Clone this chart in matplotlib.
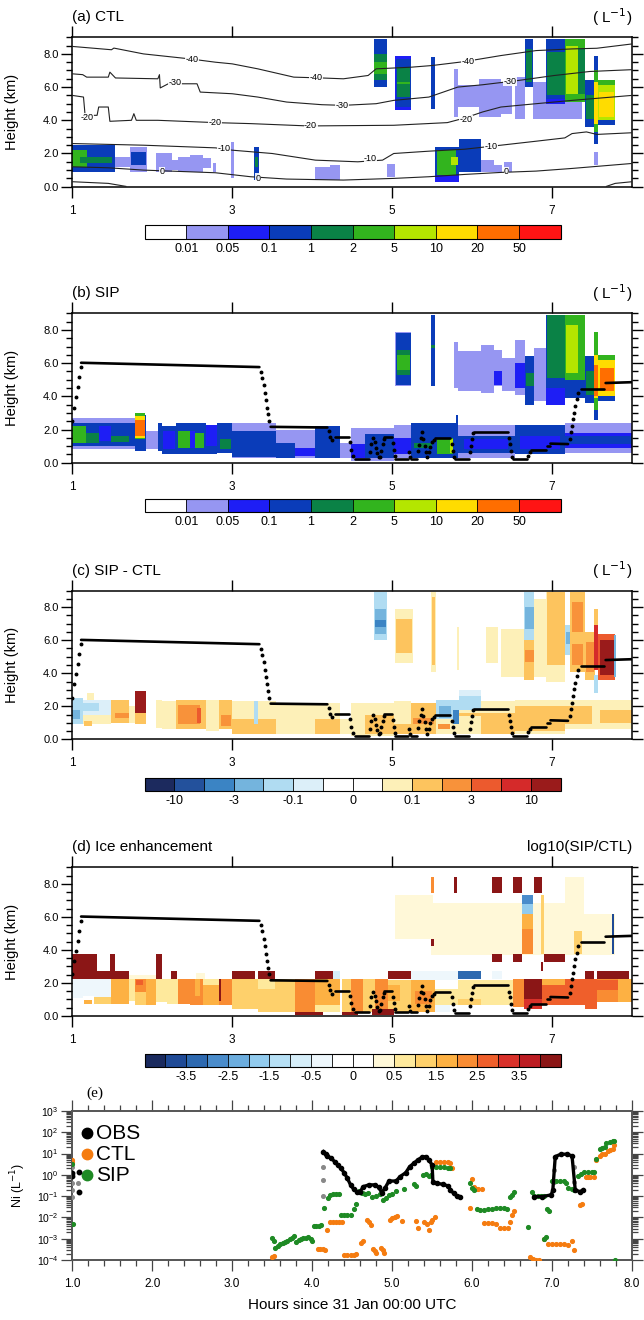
import numpy as np
import matplotlib
matplotlib.use('Agg')
import matplotlib.pyplot as plt
from matplotlib.colors import ListedColormap, BoundaryNorm
from matplotlib.cm import ScalarMappable
from matplotlib.ticker import MultipleLocator, LogLocator, NullFormatter

plt.rcParams['font.family'] = ['Liberation Sans', 'DejaVu Sans']

# ---------------- data ----------------
# (t_start, t_end, z_bottom, z_top, value) blocks of ice number (L-1)
ctl_cells = [
    (1.00, 1.72, 1.2, 1.8, 0.03), (1.00, 1.54, 0.9, 2.5, 0.5), (1.00, 1.18, 1.2, 2.2, 3),
    (1.10, 1.50, 1.4, 1.8, 1.5), (1.72, 1.94, 0.9, 2.4, 0.03), (1.74, 1.92, 1.3, 2.1, 0.5),
    (2.05, 2.25, 0.9, 2.0, 0.03), (2.25, 2.33, 1.0, 1.6, 0.03), (2.32, 2.63, 0.9, 1.8, 0.03),
    (2.47, 2.63, 0.9, 1.9, 0.03), (2.63, 2.74, 1.1, 1.7, 0.03), (2.76, 2.80, 0.9, 1.4, 0.03),
    (2.99, 3.02, 0.5, 2.7, 0.03), (3.27, 3.33, 0.4, 2.4, 0.5), (3.28, 3.32, 1.2, 1.8, 1.5),
    (4.04, 4.35, 0.4, 1.2, 0.03), (4.22, 4.35, 0.4, 1.3, 0.03), (4.94, 5.04, 0.6, 1.35, 0.03),
    (5.54, 5.84, 0.3, 2.4, 0.5), (5.54, 5.84, 0.3, 0.7, 0.07), (5.56, 5.80, 0.7, 2.2, 3),
    (5.74, 5.82, 1.3, 1.8, 7), (5.84, 6.11, 0.9, 2.9, 0.5), (6.11, 6.27, 0.9, 1.6, 0.03),
    (6.27, 6.37, 0.9, 1.3, 0.03), (6.40, 6.50, 0.9, 1.5, 0.03), (7.53, 7.58, 1.3, 2.1, 0.03),
    (4.77, 4.93, 6.0, 8.9, 0.5), (4.77, 4.93, 6.4, 8.0, 1.5), (4.77, 4.93, 6.8, 7.5, 3),
    (5.04, 5.24, 4.6, 7.9, 0.07), (5.05, 5.23, 4.8, 7.7, 0.5), (5.06, 5.22, 5.4, 7.2, 1.5),
    (5.06, 5.22, 6.2, 6.3, 3), (5.49, 5.54, 4.7, 7.8, 0.5), (5.78, 5.82, 4.2, 7.1, 0.03),
    (5.82, 6.09, 4.8, 6.1, 0.03), (6.09, 6.36, 4.2, 6.5, 0.03), (6.36, 6.50, 4.4, 6.3, 0.03),
    (6.54, 6.66, 4.1, 6.6, 0.03), (6.66, 6.76, 6.0, 8.9, 0.5), (6.67, 6.75, 6.3, 8.3, 1.5),
    (6.76, 6.92, 4.1, 6.3, 0.03), (6.90, 7.38, 4.1, 5.3, 0.03), (6.92, 7.16, 5.0, 8.9, 0.5),
    (6.94, 7.16, 5.5, 8.1, 1.5), (6.92, 7.16, 5.0, 5.3, 0.07), (7.16, 7.41, 5.1, 8.9, 3),
    (7.18, 7.32, 5.6, 8.5, 7), (7.32, 7.41, 5.6, 8.3, 1.5), (7.41, 7.54, 3.6, 6.4, 0.5),
    (7.42, 7.53, 4.1, 5.5, 1.5), (7.53, 7.58, 2.6, 7.9, 0.5), (7.53, 7.58, 3.3, 7.0, 3),
    (7.53, 7.58, 3.8, 6.3, 15), (7.58, 7.79, 3.7, 6.4, 3), (7.58, 7.79, 3.9, 6.1, 7),
    (7.59, 7.78, 4.2, 5.7, 15), (7.58, 7.79, 3.7, 4.0, 0.5),
]

sip_cells = [
    (1.00, 1.80, 0.8, 2.7, 0.03), (1.00, 1.78, 1.0, 2.4, 0.5), (1.00, 1.17, 1.2, 2.2, 3),
    (1.17, 1.33, 1.2, 1.8, 1.5), (1.33, 1.49, 1.3, 2.2, 0.07), (1.49, 1.71, 1.25, 1.6, 1.5),
    (1.78, 1.92, 0.7, 2.9, 0.5), (1.79, 1.91, 1.4, 3.0, 3), (1.79, 1.91, 1.5, 2.8, 15),
    (1.79, 1.91, 1.6, 2.6, 30), (1.92, 2.07, 0.8, 1.9, 0.03), (2.07, 2.12, 0.7, 2.4, 0.5),
    (2.12, 2.30, 0.5, 2.2, 0.5), (2.14, 2.28, 0.8, 1.9, 0.07), (2.30, 2.67, 0.5, 2.4, 0.5),
    (2.32, 2.47, 0.9, 1.9, 3), (2.47, 2.54, 0.9, 1.9, 0.07), (2.54, 2.65, 0.9, 1.8, 3),
    (2.67, 2.81, 0.5, 2.3, 0.07), (2.67, 2.81, 0.5, 1.0, 0.5), (2.81, 3.00, 0.6, 2.4, 0.5),
    (2.85, 2.99, 0.8, 1.4, 1.5), (3.00, 3.55, 0.3, 2.4, 0.03), (3.00, 3.55, 0.35, 1.9, 0.5),
    (3.55, 4.04, 0.3, 2.0, 0.03), (3.55, 3.78, 0.3, 1.2, 0.5), (3.78, 4.04, 0.4, 0.9, 0.07),
    (4.04, 4.35, 0.3, 2.2, 0.5), (4.35, 4.48, 0.3, 1.2, 0.03), (4.48, 5.02, 0.1, 2.1, 0.03),
    (4.48, 4.66, 0.3, 1.1, 0.07), (4.66, 5.02, 0.3, 1.7, 0.5), (5.02, 5.55, 0.3, 2.3, 0.03),
    (5.02, 5.24, 0.5, 1.5, 0.07), (5.24, 5.55, 0.3, 2.4, 0.5), (5.27, 5.50, 0.9, 1.2, 1.5),
    (5.55, 5.80, 0.3, 2.4, 0.5), (5.56, 5.76, 0.5, 1.5, 3), (5.72, 5.76, 0.6, 1.4, 7),
    (5.80, 5.83, 0.3, 2.9, 0.5), (5.83, 6.54, 0.3, 2.3, 0.03), (5.83, 6.54, 0.6, 1.6, 0.5),
    (5.90, 6.45, 0.8, 1.4, 0.07), (6.54, 7.16, 0.5, 2.3, 0.5), (6.60, 7.10, 0.8, 1.6, 0.07),
    (7.16, 8.00, 0.6, 2.4, 0.03), (7.16, 8.00, 0.9, 1.8, 0.07), (7.16, 8.00, 1.1, 1.6, 0.5),
    (5.04, 5.24, 4.6, 7.9, 0.03), (5.05, 5.23, 4.7, 7.8, 0.5), (5.06, 5.22, 5.3, 6.8, 1.5),
    (5.06, 5.22, 5.6, 6.5, 3), (5.49, 5.54, 4.6, 8.9, 0.5), (5.49, 5.54, 6.9, 7.1, 1.5),
    (5.78, 5.82, 4.5, 7.3, 0.03), (5.82, 6.11, 4.3, 6.7, 0.03), (6.11, 6.27, 4.2, 7.1, 0.03),
    (6.27, 6.38, 4.6, 6.8, 0.03), (6.27, 6.38, 4.7, 5.5, 0.07), (6.38, 6.54, 4.3, 6.3, 0.03),
    (6.54, 6.66, 4.1, 7.4, 0.03), (6.54, 6.66, 4.5, 6.0, 0.07), (6.66, 6.78, 3.5, 6.4, 0.5),
    (6.67, 6.77, 4.6, 5.4, 1.5), (6.78, 6.92, 3.7, 6.9, 0.03), (6.92, 7.16, 3.5, 8.9, 0.5),
    (6.94, 7.16, 5.1, 8.9, 1.5), (6.92, 7.16, 3.5, 4.5, 0.07), (7.16, 7.41, 3.9, 8.9, 3),
    (7.17, 7.32, 5.4, 8.3, 7), (7.16, 7.41, 3.9, 5.0, 0.5), (7.41, 7.53, 3.6, 6.4, 0.5),
    (7.42, 7.52, 4.1, 5.5, 1.5), (7.53, 7.58, 2.6, 7.9, 3), (7.53, 7.58, 3.9, 6.5, 15),
    (7.53, 7.58, 4.0, 5.9, 30), (7.53, 7.58, 2.6, 3.2, 0.5), (7.58, 7.79, 3.7, 6.5, 3),
    (7.58, 7.79, 4.0, 6.2, 15), (7.60, 7.78, 4.3, 5.7, 30), (7.58, 7.79, 3.7, 4.0, 0.5),
]

diff_cells = [
    (1.00, 1.13, 0.9, 2.5, -0.5), (1.00, 1.10, 1.2, 1.8, -2), (1.13, 1.49, 1.5, 2.4, -0.05),
    (1.13, 1.33, 1.7, 2.2, -0.5), (1.18, 1.27, 2.4, 2.8, 0.05), (1.13, 1.49, 0.9, 1.5, 0.05),
    (1.15, 1.25, 0.8, 1.1, 0.5), (1.49, 1.71, 1.0, 2.4, 0.5), (1.53, 1.71, 1.3, 1.6, 2),
    (1.71, 1.78, 1.0, 2.0, 0.05), (1.78, 1.92, 0.9, 2.9, 0.5), (1.78, 1.92, 1.6, 2.9, 20),
    (2.05, 2.12, 0.7, 2.4, 0.05), (2.12, 2.30, 0.6, 2.3, 0.05), (2.30, 2.67, 0.6, 2.4, 0.5),
    (2.32, 2.60, 0.9, 2.1, 2), (2.56, 2.61, 1.0, 1.9, 4), (2.67, 2.83, 0.5, 2.4, 0.05),
    (2.83, 3.00, 0.6, 2.4, 0.5), (2.86, 2.99, 0.8, 1.5, 2), (3.00, 3.55, 0.3, 2.3, 0.05),
    (3.00, 3.55, 0.3, 1.2, 0.5), (3.27, 3.32, 0.9, 2.3, -0.5), (3.55, 4.04, 0.3, 2.1, 0.05),
    (4.04, 4.35, 0.3, 2.2, 0.05), (4.04, 4.35, 0.3, 1.2, 0.5), (4.35, 4.48, 0.3, 1.2, 0.05),
    (4.48, 5.02, 0.2, 2.2, 0.05), (4.66, 5.02, 0.3, 1.5, 0.5), (5.02, 5.24, 0.3, 2.3, 0.05),
    (5.02, 5.24, 0.3, 0.9, 0.5), (5.24, 5.55, 0.3, 2.2, 0.5), (5.26, 5.52, 0.9, 1.3, 2),
    (5.55, 5.84, 0.3, 1.2, 0.05), (5.55, 5.84, 1.2, 2.4, -0.5), (5.57, 5.72, 0.6, 0.9, 2),
    (5.58, 5.74, 1.3, 2.0, -2), (5.76, 5.84, 0.9, 1.8, -4), (5.84, 6.11, 0.3, 1.8, 0.05),
    (5.84, 6.11, 1.8, 2.6, -0.5), (5.84, 6.11, 2.6, 3.0, -0.05), (5.84, 6.11, 1.4, 1.6, 0.5),
    (6.11, 6.54, 0.3, 2.3, 0.05), (6.11, 6.54, 0.3, 1.6, 0.5), (6.54, 7.16, 0.3, 2.4, 0.05),
    (6.54, 7.16, 0.5, 2.0, 0.5), (7.16, 8.00, 0.6, 2.4, 0.05), (7.16, 7.50, 0.9, 2.0, 0.5),
    (7.60, 8.00, 1.0, 1.8, 0.5),
    (4.77, 4.93, 6.0, 8.9, -0.5), (4.78, 4.92, 6.4, 7.9, -2), (4.78, 4.92, 6.8, 7.2, -4),
    (5.04, 5.26, 4.6, 7.9, 0.05), (5.05, 5.25, 5.2, 7.3, 0.5), (5.49, 5.55, 4.1, 8.9, 0.05),
    (5.50, 5.54, 4.5, 8.6, 0.5), (5.81, 5.84, 4.2, 6.8, 0.05), (6.18, 6.33, 4.6, 6.8, 0.05),
    (6.36, 6.65, 3.8, 6.7, 0.05), (6.65, 6.78, 3.6, 8.9, 0.5), (6.65, 6.78, 6.0, 8.9, -0.5),
    (6.66, 6.77, 6.7, 8.0, -2), (6.66, 6.77, 4.7, 5.4, 2), (6.78, 6.92, 3.8, 8.5, 0.05),
    (6.92, 7.16, 3.5, 8.9, 0.05), (6.94, 7.16, 4.5, 8.9, 0.5), (7.16, 7.23, 5.1, 6.9, -0.5),
    (7.17, 7.22, 5.8, 6.5, -2), (7.23, 7.41, 4.1, 8.9, 0.5), (7.25, 7.39, 6.5, 8.3, 2),
    (7.25, 7.39, 4.5, 5.8, 2), (7.41, 7.54, 3.6, 6.5, 0.5), (7.42, 7.53, 4.1, 5.9, 2),
    (7.52, 7.58, 4.3, 7.9, 0.5), (7.52, 7.58, 4.2, 6.9, 7), (7.53, 7.58, 2.8, 3.9, -0.5),
    (7.58, 7.79, 3.6, 6.4, 4), (7.60, 7.77, 3.9, 6.0, 20), (7.77, 7.80, 3.8, 6.3, -2),
]

enh_cells = [
    (1.00, 1.31, 2.26, 3.76, 4.5), (1.00, 1.71, 2.26, 2.76, 4.5), (1.47, 1.53, 2.76, 3.76, 4.5),
    (1.71, 2.05, 2.26, 2.50, 0.4), (2.05, 2.12, 2.26, 3.76, 4.5), (2.24, 2.31, 2.26, 2.76, 4.5),
    (2.55, 2.66, 2.26, 2.60, 0.4), (3.00, 3.28, 2.26, 2.76, 4.5), (3.32, 3.54, 2.26, 2.76, 4.5),
    (4.04, 4.26, 2.26, 2.76, 4.5), (4.26, 4.35, 2.26, 2.76, -0.75), (4.95, 5.23, 2.26, 2.76, 4.5),
    (5.24, 5.82, 2.16, 2.76, -0.4), (5.82, 6.11, 2.26, 2.76, -3.25), (6.25, 6.38, 2.26, 2.76, -0.4),
    (7.41, 7.52, 2.26, 2.76, 4.5), (7.56, 7.96, 2.26, 2.76, 4.5),
    (1.00, 1.13, 1.10, 2.26, -0.4), (1.13, 1.27, 1.20, 2.26, -0.4), (1.15, 1.25, 0.76, 0.96, 1.75),
    (1.27, 1.49, 1.16, 2.26, -0.4), (1.27, 1.49, 0.76, 1.16, 1.25), (1.49, 1.71, 0.76, 2.26, 1.75),
    (1.71, 1.78, 0.90, 2.26, 0.75), (1.78, 1.92, 1.46, 2.26, 2.25), (1.78, 1.92, 0.66, 1.46, 1.25),
    (1.80, 1.88, 1.86, 2.16, 2.75), (1.92, 2.05, 0.66, 2.26, 1.75), (2.05, 2.18, 0.86, 2.26, 0.75),
    (2.18, 2.32, 0.76, 2.26, 0.75), (2.32, 2.47, 0.76, 2.26, 2.25), (2.47, 2.63, 0.66, 2.26, 2.25),
    (2.54, 2.60, 1.20, 2.26, 1.75), (2.63, 2.83, 0.66, 2.26, 1.75), (2.63, 2.83, 1.90, 2.26, 0.75),
    (2.83, 3.00, 0.66, 2.26, 2.25), (2.84, 2.86, 0.90, 2.26, 4.5), (3.00, 3.32, 0.46, 2.26, 1.25),
    (3.32, 3.54, 0.26, 2.26, 1.25), (3.32, 3.54, 1.66, 2.26, 0.75), (3.54, 3.79, 0.26, 2.26, 1.25),
    (3.79, 4.04, 0.26, 2.26, 2.25), (4.04, 4.35, 0.66, 2.26, 1.75), (4.04, 4.35, 0.26, 0.66, 0.75),
    (4.37, 4.48, 0.26, 2.26, 1.25), (4.48, 4.64, 0.26, 2.26, 2.25), (4.64, 4.79, 0.26, 2.26, 1.25),
    (4.79, 4.95, 0.26, 2.26, 2.25), (4.95, 5.24, 0.26, 2.16, 1.25), (4.95, 5.10, 0.90, 1.90, 1.75),
    (5.24, 5.53, 0.26, 2.16, 1.75), (5.28, 5.50, 0.70, 1.50, 2.25), (5.53, 5.82, 0.66, 1.66, 0.75),
    (5.53, 5.73, 0.26, 0.66, -0.4), (5.82, 6.11, 1.06, 2.16, 0.75), (5.82, 6.11, 0.66, 1.06, 1.25),
    (6.11, 6.51, 0.66, 2.16, 0.75), (6.51, 6.65, 0.56, 2.26, 2.25), (6.65, 6.87, 1.06, 2.26, 4.5),
    (6.65, 6.87, 0.46, 1.06, 3.25), (6.87, 7.16, 0.66, 2.26, 1.75), (6.87, 7.16, 0.66, 1.86, 2.75),
    (7.16, 7.41, 0.66, 2.26, 2.75), (7.41, 7.56, 0.46, 2.26, 2.75), (7.56, 7.83, 0.86, 2.26, 2.25),
    (7.56, 7.83, 1.56, 2.16, 2.75), (7.83, 8.00, 0.86, 2.26, 1.75),
    (3.79, 4.13, 0.06, 0.26, 4.5), (4.37, 4.57, 0.06, 0.26, 4.5), (4.75, 5.02, 0.06, 0.46, 4.5),
    (5.04, 5.51, 4.66, 7.36, 0.4), (5.49, 6.65, 3.70, 6.86, 0.4), (6.65, 7.16, 3.70, 6.86, 0.4),
    (7.16, 7.40, 3.70, 8.40, 0.4), (7.40, 7.79, 3.70, 6.20, 0.4),
    (6.63, 6.76, 6.76, 7.36, -2.75), (6.63, 6.76, 6.16, 6.76, -1.75), (6.63, 6.76, 5.26, 6.16, 1.75),
    (6.63, 6.76, 3.76, 5.26, 2.25), (6.86, 6.90, 3.76, 7.36, 1.25), (7.27, 7.38, 3.76, 5.16, 1.25),
    (5.49, 5.52, 7.46, 8.40, 2.25), (5.77, 5.81, 7.46, 8.40, 4.5), (6.25, 6.38, 7.46, 8.40, 4.5),
    (6.51, 6.62, 7.46, 8.40, 4.5), (6.77, 6.87, 7.46, 8.40, 4.5), (6.25, 6.38, 3.26, 3.76, 4.5),
    (6.51, 6.62, 3.26, 3.76, 4.5), (6.90, 7.16, 3.26, 3.76, 4.5), (5.49, 5.52, 4.26, 4.66, 4.5),
    (6.86, 6.89, 2.76, 3.26, 4.5), (7.75, 7.78, 3.76, 6.16, -3.75),
]

# isotherm heights (km) in panel (a)
iso_m40_t = [1.0, 1.49, 1.52, 1.89, 2.47, 2.79, 3.0, 3.32, 3.77, 4.12, 4.39, 4.7, 4.8, 5.24, 5.5, 5.91, 6.36, 6.8, 7.25, 7.56, 8.0]
iso_m40_z = [8.45, 8.25, 8.35, 8.0, 7.7, 7.5, 7.4, 7.1, 6.6, 6.55, 6.5, 6.7, 7.1, 7.2, 7.3, 7.54, 7.9, 8.2, 8.3, 8.34, 8.6]
iso_m30_t = [1.0, 1.13, 1.18, 1.45, 1.47, 1.54, 2.07, 2.09, 2.1, 2.2, 2.56, 2.6, 3.0, 3.32, 3.68, 4.12, 4.39, 4.8, 5.02, 5.46, 5.82, 6.13, 6.58, 7.03, 7.47, 8.0]
iso_m30_z = [6.8, 6.75, 6.6, 6.6, 6.9, 6.55, 6.5, 6.75, 5.95, 6.2, 6.2, 5.7, 5.6, 5.4, 5.1, 4.94, 4.9, 5.0, 5.2, 5.4, 6.0, 6.14, 6.4, 6.7, 6.94, 7.05]
iso_m20_t = [1.0, 1.14, 1.16, 1.31, 1.33, 1.45, 1.47, 1.74, 1.77, 1.8, 2.07, 2.79, 3.23, 3.95, 5.02, 5.69, 5.91, 6.13, 6.36, 6.8, 7.25, 8.0]
iso_m20_z = [5.5, 5.4, 4.3, 4.3, 4.8, 4.8, 3.94, 4.0, 4.4, 4.0, 4.0, 3.86, 3.8, 3.66, 3.7, 3.86, 4.14, 4.5, 4.8, 5.0, 5.2, 5.5]
iso_m10_t = [1.0, 1.89, 2.79, 3.0, 3.5, 4.04, 4.57, 4.88, 5.02, 5.46, 5.91, 6.36, 6.8, 7.16, 7.25, 7.43, 7.56, 8.0]
iso_m10_z = [2.6, 2.5, 2.34, 2.2, 2.0, 1.6, 1.5, 1.6, 2.0, 2.14, 2.26, 2.5, 2.74, 2.94, 3.2, 3.3, 3.15, 3.25]
iso_0_t = [1.0, 1.45, 1.89, 2.79, 3.23, 3.68, 4.39, 5.02, 5.46, 5.91, 6.36, 6.8, 7.25, 8.0]
iso_0_z = [1.2, 1.14, 1.0, 0.84, 0.6, 0.46, 0.4, 0.5, 0.6, 0.74, 0.86, 0.94, 1.1, 1.4]
iso_p10a_t = [1.0, 1.45, 1.67]
iso_p10a_z = [0.3, 0.2, 0.02]
iso_p10b_t = [7.68, 7.79, 8.0]
iso_p10b_z = [0.02, 0.2, 0.3]
iso_lab_t = [2.5, 4.05, 5.95, 2.29, 4.37, 6.47, 1.18, 2.79, 3.98, 5.92, 2.9, 4.73, 6.24, 2.12, 3.32, 6.43]
iso_lab_z = [7.65, 6.55, 7.55, 6.25, 4.9, 6.35, 4.15, 3.86, 3.66, 4.05, 2.28, 1.68, 2.45, 0.9, 0.5, 0.9]
iso_lab_s = ['-40', '-40', '-40', '-30', '-30', '-30', '-20', '-20', '-20', '-20',
             '-10', '-10', '-10', '0', '0', '0']

# black height line in (b)-(d): solid plateaus and single dots
plat_t0 = [1.11, 3.48, 4.28, 4.53, 4.90, 5.04, 5.24, 5.53, 5.79, 6.02, 6.51, 6.74, 6.94, 6.98, 7.36, 7.67]
plat_t1 = [3.34, 4.19, 4.46, 4.71, 5.00, 5.20, 5.31, 5.73, 5.96, 6.45, 6.69, 6.92, 6.98, 7.20, 7.65, 8.00]
plat_z0 = [6.02, 2.16, 1.52, 0.22, 1.52, 0.22, 0.22, 1.48, 0.20, 1.85, 0.20, 0.74, 1.00, 1.15, 4.45, 4.80]
plat_z1 = [5.76, 2.12, 1.52, 0.22, 1.52, 0.22, 0.22, 1.48, 0.20, 1.85, 0.20, 0.74, 1.00, 1.12, 4.45, 4.85]
dot_t = [1.0, 1.02, 1.045, 1.067, 1.09, 1.107,
         3.357, 3.375, 3.393, 3.41, 3.424, 3.437, 3.45, 3.464,
         4.205, 4.223, 4.245, 4.473, 4.49, 4.51,
         4.723, 4.741, 4.76, 4.78, 4.8, 4.817, 4.83, 4.848, 4.866, 4.884, 4.897,
         5.009, 5.022, 5.036, 5.21, 5.228,
         5.32, 5.34, 5.357, 5.37, 5.39, 5.406, 5.424, 5.44, 5.46, 5.478, 5.5, 5.518,
         5.746, 5.76, 5.772, 5.97, 5.987, 6.0, 6.013,
         6.46, 6.473, 6.487, 6.5, 6.705, 6.72,
         7.219, 7.236, 7.25, 7.263, 7.277, 7.29, 7.308, 7.326]
dot_z = [2.52, 3.32, 3.96, 4.56, 5.16, 5.76,
         5.48, 5.12, 4.68, 4.22, 3.76, 3.32, 2.92, 2.52,
         1.88, 1.56, 1.36, 1.22, 0.76, 0.4,
         0.62, 1.12, 1.48, 1.22, 0.88, 0.56, 0.32, 0.36, 0.72, 1.12, 1.42,
         1.16, 0.76, 0.4, 0.62, 0.32,
         0.68, 1.08, 1.48, 1.82, 1.42, 1.02, 0.62, 0.32, 0.62, 0.96, 1.22, 1.36,
         1.12, 0.72, 0.36, 0.62, 1.02, 1.42, 1.76,
         1.48, 1.12, 0.72, 0.36, 0.42, 0.62,
         1.42, 1.82, 2.22, 2.62, 3.02, 3.42, 3.82, 4.22]

# panel (e): log10 of Ni (L-1)
obs_t = [4.14, 4.17, 4.19, 4.24, 4.28, 4.32, 4.36, 4.40, 4.44, 4.48, 4.52, 4.56, 4.60, 4.64, 4.71,
         4.78, 4.83, 4.87, 4.91, 4.96, 5.05, 5.10, 5.17, 5.22, 5.27, 5.32, 5.37, 5.42, 5.46, 5.50,
         5.51, 5.56, 5.63, 5.70, 5.73, 5.77, 5.81, 5.85, np.nan,
         6.78, 6.88, 6.99, 7.01, 7.04, 7.11, 7.19, 7.25, 7.29, 7.35, 7.39]
obs_lg = [1.09, 0.98, 0.89, 0.78, 0.62, 0.46, 0.31, 0.10, -0.16, -0.47, -0.68, -0.79, -0.79, -0.55, -0.47,
          -0.47, -0.58, -0.83, -0.63, -0.29, -0.29, -0.08, 0.10, 0.39, 0.54, 0.70, 0.82, 0.86, 0.70, 0.46,
          -0.32, -0.40, -0.44, -0.52, -0.71, -0.87, -0.99, -1.02, np.nan,
          -1.02, -1.02, -0.94, -0.71, 0.86, 0.97, 0.97, 0.89, -0.71, -0.79, -0.71]
obs_grey_t = [1.0, 1.0, 1.0, 1.0, 1.07, 4.14, 4.14, 4.14, 7.02, 7.03, 7.27, 7.28, 4.63]
obs_grey_lg = [0.38, -0.4, -0.72, -1.03, -0.4, -1.0, -0.25, 0.35, -0.32, 0.23, 0.39, -0.32, -0.85]
obs_pt_t = [1.0, 1.0, 1.08, 1.08]
obs_pt_lg = [0.1, -0.05, 0.12, -0.82]

ctl_t = [1.0, 1.0, 3.5, 3.52, 4.07, 4.10, 4.13, 4.16, 4.18, 4.22, 4.26, 4.30, 4.34, 4.37,
         4.40, 4.44, 4.48, 4.52, 4.55, 4.61, 4.63, 4.69, 4.71, 4.73, 4.76, 4.78, 4.80,
         4.86, 4.88, 4.90, 4.97, 5.00, 5.03, 5.06, 5.12, 5.30, 5.32, 5.40, 5.43, 5.46, 5.48,
         5.50, 5.53, 5.55, 5.60, 5.65, 5.70, 5.73, 5.75, 6.00, 6.02, 6.05, 6.08, 6.12, 5.98,
         6.15, 6.20, 6.25, 6.30, 6.35, 6.40, 6.45, 6.48, 6.50, 6.52, 6.73, 6.76, 6.80, 6.84,
         6.90, 6.95, 7.00, 7.05, 7.10, 7.15, 7.20, 7.25, 7.27, 7.35, 7.38, 7.42, 7.45, 7.48,
         7.52, 7.55, 7.60, 7.63, 7.66, 7.70, 7.73, 7.76, 7.78]
ctl_lg = [0.69, 0.6, -3.85, -3.8, -3.5, -3.5, -3.5, -3.52, -2.6, -2.2, -2.2, -2.2, -2.2, -2.22,
          -3.75, -3.75, -3.75, -3.75, -3.72, -3.2, -3.1, -2.1, -2.2, -2.35, -3.5, -3.6, -3.65,
          -3.45, -3.55, -3.65, -2.1, -2.05, -2.0, -1.95, -2.15, -2.15, -2.5, -2.2, -2.3, -2.6, -2.2,
          -2.1, -2.0, 0.6, 0.6, 0.6, 0.6, 0.55, 0.3, -0.2, -0.55, -0.65, -0.65, -0.65, -1.55,
          -2.25, -2.25, -2.25, -2.3, -2.5, -2.5, -2.5, -2.2, -1.9, -1.7, -3.85, -3.95, -4.0, -3.98,
          -3.0, -3.25, -3.25, -3.25, -3.25, -3.25, -3.3, -3.1, -3.55, -1.4, -1.35, -0.1, -0.1, -0.1,
          -0.08, 0.7, 0.9, 1.0, 1.0, 1.1, 1.15, 1.2, 1.4]

sip_t = [1.0, 1.01, 3.5, 3.52, 3.54, 3.57, 3.6, 3.63, 3.66, 3.69, 3.72, 3.75, 3.77, 3.8, 3.83,
         3.86, 3.89, 3.92, 3.95, 3.98, 4.0, 4.02, 4.05, 4.08, 4.11, 4.15, 4.2, 4.22, 4.26, 4.3,
         4.34, 4.36, 4.4, 4.44, 4.48, 4.52, 4.55, 4.58, 4.62, 4.66, 4.7, 4.75, 4.8, 4.85, 4.88,
         4.92, 4.96, 5.0, 5.05, 5.15, 5.27, 5.3, 5.38, 5.42, 5.46, 5.48, 5.5, 5.55, 5.6, 5.65,
         5.7, 5.73, 5.98, 6.0, 6.02, 6.06, 6.1, 6.15, 6.2, 6.25, 6.3, 6.35, 6.4, 6.44, 6.47,
         6.5, 6.52, 6.7, 6.75, 6.78, 6.82, 6.86, 6.9, 6.94, 6.96, 6.9, 6.93, 7.0, 7.05, 7.1,
         7.15, 7.18, 7.2, 7.25, 7.28, 7.33, 7.36, 7.4, 7.45, 7.5, 7.53, 7.55, 7.6, 7.63, 7.66,
         7.68, 7.72, 7.76, 7.78, 7.79]
sip_lg = [0.53, -2.33, -2.95, -3.1, -3.45, -3.35, -3.25, -3.2, -3.15, -3.1, -3.0, -2.95, -2.85, -3.15, -3.05,
          -3.0, -2.95, -2.95, -2.9, -3.0, -3.1, -2.4, -2.4, -2.4, -2.35, -1.55, -1.1, -0.95, -0.9, -0.9,
          -0.88, -1.9, -1.9, -1.9, -1.88, -1.6, -1.35, -0.75, -0.85, -0.9, -0.85, -1.05, -1.0, -0.9, -1.2,
          -1.1, -0.95, -0.9, -0.75, -0.65, -0.45, -0.5, 0.0, 0.05, -0.05, 0.0, 0.35, 0.35, 0.35, 0.35,
          0.3, 0.3, -0.4, -0.6, -0.7, -1.6, -1.65, -1.65, -1.6, -1.6, -1.55, -1.55, -1.55, -1.6, -1.05,
          -0.95, -0.8, -2.45, -0.8, -1.0, -1.0, -1.0, -1.0, -1.6, -1.7, -3.0, -2.9, -0.3, -0.3, -0.3,
          -0.3, -0.4, -0.6, -0.65, -0.7, -0.05, 0.05, 0.15, 0.15, 0.15, 0.12, 0.75, 1.2, 1.25, 1.3,
          1.5, 1.55, 1.6, 1.6, -4.0]

# colour scales
ni_bounds = [0.001, 0.01, 0.05, 0.1, 1, 2, 5, 10, 20, 50, 1000]
ni_colors = ['#ffffff', '#9696f2', '#1e1ef5', '#0a3cb9', '#0a8246', '#32b41e',
             '#b4e600', '#ffdc00', '#ff6e00', '#ff1414']
ni_ticks = [0.01, 0.05, 0.1, 1, 2, 5, 10, 20, 50]
ni_labels = ['0.01', '0.05', '0.1', '1', '2', '5', '10', '20', '50']

df_bounds = [-30, -10, -5, -3, -1, -0.1, -0.01, 0, 0.01, 0.1, 1, 3, 5, 10, 30]
df_colors = ['#1c2a5e', '#23519c', '#3b84c4', '#74b4dd', '#b0dcf2', '#dceff9', '#ffffff',
             '#ffffff', '#fdf0b8', '#fdc45e', '#f8923a', '#ec5a2e', '#d52a2a', '#9a1b1b']
df_ticks = [-10, -3, -0.1, 0, 0.1, 3, 10]
df_labels = ['-10', '-3', '-0.1', '0', '0.1', '3', '10']

en_bounds = [-4.5, -4, -3.5, -3, -2.5, -2, -1.5, -1, -0.5, -0.25, 0, 0.25, 0.5, 1,
             1.5, 2, 2.5, 3, 3.5, 4, 5]
en_colors = ['#1a2a5e', '#1f4a96', '#2d69b0', '#4a8ccb', '#6cadde', '#92cbee', '#b7e0f5',
             '#d6eef9', '#eef7fc', '#ffffff', '#ffffff', '#fff8d8', '#fee99c', '#fed06b',
             '#fdb143', '#f98c33', '#ef5f2b', '#d8312a', '#bc1c22', '#8b1616']
en_ticks = [-3.5, -2.5, -1.5, -0.5, 0, 0.5, 1.5, 2.5, 3.5]
en_labels = ['-3.5', '-2.5', '-1.5', '-0.5', '0', '0.5', '1.5', '2.5', '3.5']

# ---------------- plotting ----------------
t_edges = np.linspace(1, 8, 701)
z_edges = np.linspace(0, 9, 181)
tc = 0.5 * (t_edges[1:] + t_edges[:-1])
zc = 0.5 * (z_edges[1:] + z_edges[:-1])


def paint(cells):
    grid = np.full((len(zc), len(tc)), np.nan)
    for t0, t1, z0, z1, v in cells:
        grid[np.ix_((zc >= z0) & (zc < z1), (tc >= t0) & (tc < t1))] = v
    return np.ma.masked_invalid(grid)


fig = plt.figure(figsize=(6.44, 13.2), dpi=100)
W = 644.0
H = 1320.0


def fax(x0, y_top, x1, y_bot):
    return fig.add_axes([x0 / W, 1 - y_bot / H, (x1 - x0) / W, (y_bot - y_top) / H])


def height_panel(ax, cells, colors, bounds, title, unit):
    cmap = ListedColormap(colors)
    norm = BoundaryNorm(bounds, len(colors))
    ax.pcolormesh(t_edges, z_edges, paint(cells), cmap=cmap, norm=norm, shading='flat')
    ax.set_xlim(1, 8)
    ax.set_ylim(0, 9)
    ax.set_xticks([1, 3, 5, 7])
    ax.set_xticklabels(['1', '3', '5', '7'])
    ax.set_yticks([0, 2, 4, 6, 8])
    ax.set_yticklabels(['0.0', '2.0', '4.0', '6.0', '8.0'])
    ax.yaxis.set_minor_locator(MultipleLocator(0.5))
    ax.tick_params(which='both', direction='out', top=True, right=True, width=1.0)
    ax.tick_params(which='major', length=8)
    ax.tick_params(which='minor', length=4)
    ax.tick_params(axis='x', labelsize=8.5, pad=5)
    ax.tick_params(axis='y', labelsize=8, pad=2)
    ax.set_ylabel('Height (km)', fontsize=10.5)
    ax.yaxis.set_label_coords(-0.095, 0.5)
    ax.text(0, 1.135, title, transform=ax.transAxes, fontsize=11, va='center', ha='left')
    ax.text(1, 1.135, unit, transform=ax.transAxes, fontsize=11, va='center', ha='right')
    for s in ax.spines.values():
        s.set_linewidth(1.1)
    return cmap, norm


def add_cbar(y_top, cmap, norm, bounds, ticks, labels):
    cax = fax(144.6, y_top, 560.6, y_top + 13.5)
    cb = fig.colorbar(ScalarMappable(norm=norm, cmap=cmap), cax=cax, orientation='horizontal',
                      spacing='uniform', drawedges=True, boundaries=bounds, ticks=ticks)
    cb.set_ticklabels(labels)
    cb.ax.tick_params(length=0, labelsize=9, pad=3)
    cb.outline.set_linewidth(0.8)
    cb.dividers.set_linewidth(0.6)
    cb.ax.minorticks_off()


def black_line(ax):
    for t0, t1, z0, z1 in zip(plat_t0, plat_t1, plat_z0, plat_z1):
        ax.plot([t0, t1], [z0, z1], color='k', lw=1.9, solid_capstyle='round', zorder=5)
    ax.plot(dot_t, dot_z, 'o', color='k', ms=1.8, ls='none', zorder=5)


# (a)
ax_a = fax(72.3, 37.3, 632, 186.7)
cm, nm = height_panel(ax_a, ctl_cells, ni_colors, ni_bounds, '(a) CTL', '( L$^{-1}$)')
for tt, zz in [(iso_m40_t, iso_m40_z), (iso_m30_t, iso_m30_z), (iso_m20_t, iso_m20_z),
               (iso_m10_t, iso_m10_z), (iso_0_t, iso_0_z), (iso_p10a_t, iso_p10a_z),
               (iso_p10b_t, iso_p10b_z)]:
    ax_a.plot(tt, zz, color='#222222', lw=0.8, zorder=4)
for tt, zz, s in zip(iso_lab_t, iso_lab_z, iso_lab_s):
    ax_a.text(tt, zz, s, fontsize=6.5, ha='center', va='center', zorder=6,
              bbox=dict(facecolor='white', edgecolor='none', pad=0.3, alpha=0.9))
add_cbar(225.3, cm, nm, ni_bounds, ni_ticks, ni_labels)

# (b)
ax_b = fax(72.3, 313.3, 632, 462.7)
cm, nm = height_panel(ax_b, sip_cells, ni_colors, ni_bounds, '(b) SIP', '( L$^{-1}$)')
black_line(ax_b)
add_cbar(498.5, cm, nm, ni_bounds, ni_ticks, ni_labels)

# (c)
ax_c = fax(72.3, 590.7, 632, 739.3)
cm, nm = height_panel(ax_c, diff_cells, df_colors, df_bounds, '(c) SIP - CTL', '( L$^{-1}$)')
black_line(ax_c)
add_cbar(777.7, cm, nm, df_bounds, df_ticks, df_labels)

# (d)
ax_d = fax(72.3, 867.3, 632, 1016)
cm, nm = height_panel(ax_d, enh_cells, en_colors, en_bounds, '(d) Ice enhancement', 'log10(SIP/CTL)')
black_line(ax_d)
add_cbar(1053.8, cm, nm, en_bounds, en_ticks, en_labels)

# (e)
ax_e = fax(72.3, 1111, 632, 1260)
ax_e.plot(obs_t, 10 ** np.array(obs_lg), 'o-', color='k', lw=2.4, ms=3.0, zorder=4)
ax_e.plot(obs_grey_t, 10 ** np.array(obs_grey_lg), 'o', color='#888888', ms=2.6, ls='none', zorder=3)
ax_e.plot(obs_pt_t, 10 ** np.array(obs_pt_lg), 'o', color='k', ms=3.2, ls='none', zorder=4)
ax_e.plot(ctl_t, 10 ** np.array(ctl_lg), 'o', color='#f57c10', ms=2.7, ls='none', zorder=3)
ax_e.plot(sip_t, 10 ** np.array(sip_lg), 'o', color='#1e8a24', ms=2.7, ls='none', zorder=3)
ax_e.set_yscale('log')
ax_e.set_xlim(1, 8)
ax_e.set_ylim(1e-4, 1e3)
ax_e.set_xticks(np.arange(1, 9))
ax_e.set_xticklabels(['%.1f' % v for v in np.arange(1, 9)])
ax_e.xaxis.set_minor_locator(MultipleLocator(0.2))
ax_e.yaxis.set_major_locator(LogLocator(base=10, numticks=10))
ax_e.yaxis.set_minor_locator(LogLocator(base=10, subs=np.arange(2, 10), numticks=10))
ax_e.yaxis.set_minor_formatter(NullFormatter())
ax_e.tick_params(which='both', direction='out', top=True, right=True, width=0.9, color='#444444')
ax_e.tick_params(which='major', length=8)
ax_e.tick_params(which='minor', length=4)
ax_e.tick_params(axis='x', labelsize=8.5, pad=5)
ax_e.tick_params(axis='y', labelsize=7.5, pad=2)
for s in ax_e.spines.values():
    s.set_linewidth(1.4)
    s.set_color('#555555')
ax_e.set_ylabel('Ni (L$^{-1}$)', fontsize=9)
ax_e.yaxis.set_label_coords(-0.08, 0.5)
ax_e.set_xlabel('Hours since 31 Jan 00:00 UTC', fontsize=11, labelpad=6)
ax_e.text(0.025, 1.12, '(e)', transform=ax_e.transAxes, fontsize=11,
          family=['Liberation Serif', 'DejaVu Serif'], va='center', ha='left')
for yy, name, col in [(0.85, 'OBS', 'k'), (0.71, 'CTL', '#f57c10'), (0.57, 'SIP', '#1e8a24')]:
    ax_e.plot([0.027], [yy], 'o', color=col, ms=7.5, transform=ax_e.transAxes)
    ax_e.text(0.043, yy, name, transform=ax_e.transAxes, fontsize=15, va='center', ha='left')

fig.savefig('out.png', dpi=100)
